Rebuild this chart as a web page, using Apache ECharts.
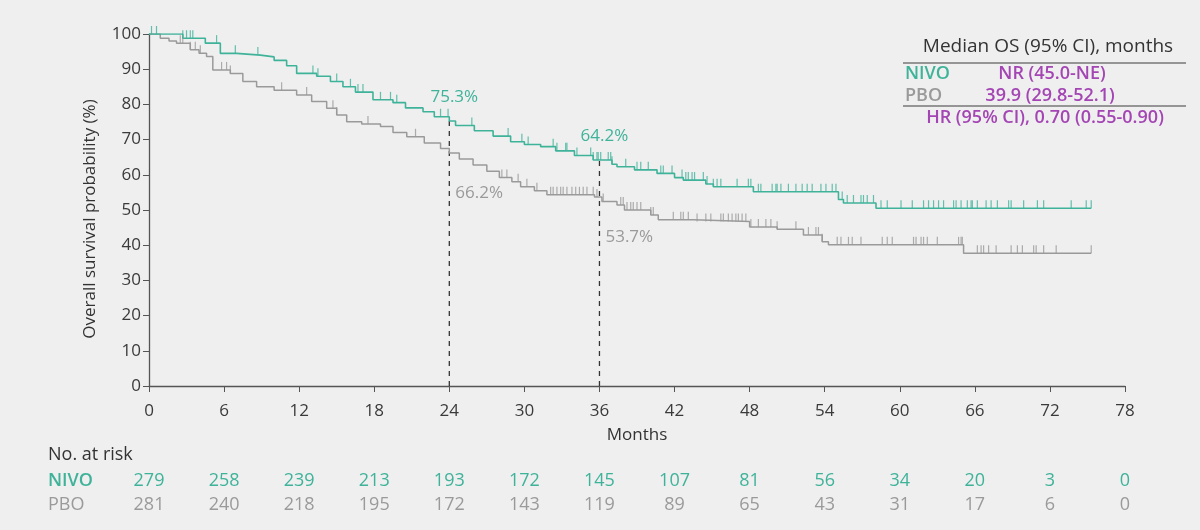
<!DOCTYPE html>
<html>
<head>
<meta charset="utf-8">
<script src="https://cdn.jsdelivr.net/npm/echarts@6/dist/echarts.min.js"></script>
<style>
  html, body { margin: 0; padding: 0; background: #efefef; }
  #chart { width: 1200px; height: 530px; }
</style>
</head>
<body>
<div id="chart"></div>
<script>
// KM steps: survival (%) that starts at each time (months)
const nivoTimes = [0, 2.7, 4.5, 5.7, 7.0, 8.9, 10.0, 11.0, 11.8, 13.4, 14.5, 15.5, 16.5, 17.9, 19.5, 20.5, 21.9, 22.8, 24.0, 24.5, 26.0, 27.5, 28.9, 30.0, 31.3, 32.5, 34.0, 35.5, 37.0, 37.4, 38.8, 40.6, 42.0, 42.7, 44.5, 45.1, 48.3, 55.1, 55.5, 58.1, 75.3];
const nivoSurv  = [100, 98.8, 97.4, 94.5, 94.0, 93.5, 92.5, 91.0, 88.8, 88.0, 86.5, 85.0, 83.5, 81.3, 80.5, 79.0, 77.9, 76.5, 75.3, 74.0, 72.5, 71.0, 69.4, 68.6, 68.0, 66.8, 65.5, 64.2, 63.0, 62.3, 61.4, 60.4, 59.2, 58.5, 57.4, 56.6, 55.2, 53.0, 52.0, 50.5, 50.5];
const pboTimes  = [0, 0.9, 1.6, 2.2, 3.3, 4.0, 4.6, 5.1, 6.5, 7.5, 8.6, 10.0, 11.8, 13.0, 14.2, 15.0, 15.8, 17.0, 18.5, 19.5, 20.6, 22.0, 23.3, 24.0, 24.8, 25.9, 27.0, 28.0, 29.0, 29.7, 30.8, 31.8, 35.6, 36.2, 37.4, 38.0, 40.1, 40.7, 43.5, 48.0, 50.2, 52.3, 53.8, 54.3, 65.1, 75.3];
const pboSurv   = [100, 98.8, 98.0, 97.4, 95.5, 94.5, 93.6, 89.8, 88.8, 86.5, 85.0, 84.0, 82.7, 80.8, 78.9, 77.0, 75.1, 74.4, 73.7, 72.0, 70.8, 69.0, 67.5, 66.2, 64.5, 62.8, 61.0, 59.2, 58.0, 56.6, 55.5, 54.3, 53.7, 52.4, 51.4, 50.0, 48.6, 47.2, 46.7, 45.2, 44.5, 42.9, 41.0, 40.1, 37.7, 37.7];

// censoring times (months)
const nivoCensor = [0.2, 0.6, 2.7, 3.0, 3.3, 3.5, 5.4, 6.9, 8.7, 13.1, 13.5, 15.0, 16.1, 16.7, 17.1, 18.5, 19.3, 19.8, 23.3, 23.9, 25.8, 28.7, 29.8, 30.3, 32.3, 32.6, 33.3, 33.4, 34.2, 35.3, 35.5, 35.8, 35.9, 36.1, 36.7, 36.9, 37.0, 38.1, 39.0, 39.3, 39.9, 40.9, 41.1, 41.8, 42.6, 42.9, 43.1, 43.4, 43.6, 44.3, 44.6, 45.1, 45.4, 45.7, 47.0, 47.9, 48.1, 48.7, 48.9, 49.8, 50.1, 50.2, 50.5, 51.1, 51.7, 52.2, 52.6, 53.0, 53.7, 54.1, 54.6, 54.9, 55.4, 55.8, 56.3, 56.9, 57.1, 57.4, 57.9, 58.5, 59.0, 60.1, 61.0, 61.9, 62.3, 62.7, 63.1, 63.5, 64.3, 64.5, 64.9, 65.4, 65.7, 65.8, 66.2, 66.9, 67.3, 67.8, 68.7, 68.9, 69.9, 71.0, 71.5, 73.7, 74.9, 75.3];
const pboCensor = [2.5, 2.7, 3.3, 3.7, 4.1, 5.8, 6.2, 6.5, 10.6, 12.6, 14.7, 15.0, 17.5, 21.3, 28.2, 28.6, 29.5, 30.2, 31.0, 32.1, 32.3, 32.6, 32.9, 33.1, 33.4, 33.8, 34.1, 34.4, 34.7, 35.0, 35.5, 35.8, 36.3, 37.7, 37.9, 38.2, 38.5, 38.7, 39.0, 39.3, 40.1, 40.3, 41.9, 42.5, 42.7, 43.1, 43.8, 44.5, 44.9, 45.7, 45.9, 46.3, 46.6, 46.9, 47.1, 47.4, 47.7, 48.1, 48.7, 49.3, 49.7, 50.2, 51.7, 52.7, 53.3, 53.5, 53.8, 55.0, 55.3, 55.9, 56.2, 56.9, 58.6, 59.0, 59.4, 61.1, 61.3, 61.7, 61.9, 62.2, 63.0, 64.7, 64.9, 65.0, 66.2, 66.5, 66.7, 67.1, 67.7, 68.9, 69.4, 69.8, 70.7, 70.9, 71.5, 72.5, 75.3];

// number at risk
const riskTimes = [0, 6, 12, 18, 24, 30, 36, 42, 48, 54, 60, 66, 72, 78];
const nivoRisk = [279, 258, 239, 213, 193, 172, 145, 107, 81, 56, 34, 20, 3, 0];
const pboRisk  = [281, 240, 218, 195, 172, 143, 119, 89, 65, 43, 31, 17, 6, 0];

// landmark annotations
const landmarkTimes = [24, 36];
const nivoLandmark = [75.3, 64.2];
const pboLandmark = [66.2, 53.7];

const TEAL = '#3fb39a';
const GRAY = '#9a9a9a';
const PURPLE = '#a445b4';
const FONT = 'Open Sans';

function survAt(times, surv, t) {
  let v = surv[0];
  for (let i = 0; i < times.length; i++) {
    if (times[i] <= t) v = surv[i]; else break;
  }
  return v;
}

const nivoLine = nivoTimes.map((t, i) => [t, nivoSurv[i]]);
const pboLine = pboTimes.map((t, i) => [t, pboSurv[i]]);
const nivoMarks = nivoCensor.map(t => [t, survAt(nivoTimes, nivoSurv, t)]);
const pboMarks = pboCensor.map(t => [t, survAt(pboTimes, pboSurv, t)]);

const chart = echarts.init(document.getElementById('chart'));

const censorSeries = (data, color) => ({
  type: 'scatter',
  data: data,
  symbol: 'rect',
  symbolSize: [1.2, 8],
  symbolOffset: [0, -4],
  itemStyle: { color: color },
  silent: true,
  z: 3
});

const dropLines = landmarkTimes.map((t, i) => ({
  type: 'line',
  data: [[t, 0], [t, nivoLandmark[i]]],
  symbol: 'none',
  lineStyle: { color: '#333', width: 1.3, type: [5, 5] },
  silent: true,
  z: 1
}));

const option = {
  backgroundColor: '#efefef',
  animation: false,
  grid: { left: 149, right: 75, top: 34, bottom: 144 },
  xAxis: {
    type: 'value',
    min: 0, max: 78, interval: 6,
    name: 'Months',
    nameLocation: 'middle',
    nameGap: 41,
    nameTextStyle: { fontFamily: FONT, fontSize: 17, color: '#333' },
    axisLine: { lineStyle: { color: '#555', width: 1.3 } },
    axisTick: { lineStyle: { color: '#555' }, length: 6 },
    axisLabel: { fontFamily: FONT, fontSize: 17, color: '#3a3a3a', margin: 17 },
    splitLine: { show: false }
  },
  yAxis: {
    type: 'value',
    min: 0, max: 100, interval: 10,
    axisLine: { show: true, lineStyle: { color: '#555', width: 1.3 } },
    axisTick: { show: true, lineStyle: { color: '#555' }, length: 6 },
    axisLabel: { fontFamily: FONT, fontSize: 17, color: '#3a3a3a', margin: 8 },
    splitLine: { show: false }
  },
  series: [
    ...dropLines,
    {
      type: 'line', data: pboLine, step: 'end', symbol: 'none',
      lineStyle: { color: GRAY, width: 1.5 }, z: 2, silent: true
    },
    {
      type: 'line', data: nivoLine, step: 'end', symbol: 'none',
      lineStyle: { color: TEAL, width: 1.6 }, z: 2, silent: true
    },
    censorSeries(pboMarks, GRAY),
    censorSeries(nivoMarks, TEAL)
  ]
};
chart.setOption(option);

// annotations and tables positioned from the axis scales
const px = (x, y) => chart.convertToPixel({ gridIndex: 0 }, [x, y]);
const txt = (x, y, text, color, font) => ({
  type: 'text', x: x, y: y,
  style: {
    text: text, fill: color, font: font || ('17px "' + FONT + '"'),
    align: 'center', verticalAlign: 'middle'
  }
});
const left = (el) => { el.style.align = 'left'; return el; };

const g = [];
// y axis title
const yTitle = txt(90, 219, 'Overall survival probability (%)', '#333');
yTitle.rotation = Math.PI / 2;
g.push(yTitle);

// landmark labels
landmarkTimes.forEach((t, i) => {
  const pn = px(t, nivoLandmark[i]);
  g.push(txt(pn[0] + 5, pn[1] - 24, nivoLandmark[i].toFixed(1) + '%', TEAL));
  const pp = px(t, pboLandmark[i]);
  g.push(left(txt(pp[0] + 6, pp[1] + 40, pboLandmark[i].toFixed(1) + '%', GRAY)));
});

// number at risk table
const riskFont = '18px "' + FONT + '"';
const riskBold = '500 18px "' + FONT + '"';
g.push(left(txt(48, 455, 'No. at risk', '#333', riskFont)));
g.push(left(txt(48, 481, 'NIVO', TEAL, '600 18px "' + FONT + '"')));
g.push(left(txt(48, 505, 'PBO', GRAY, riskFont)));
riskTimes.forEach((t, i) => {
  const p = px(t, 0);
  g.push(txt(p[0], 481, String(nivoRisk[i]), TEAL, riskBold));
  g.push(txt(p[0], 505, String(pboRisk[i]), GRAY, riskFont));
});

// median OS box
const boxFont = '19px "' + FONT + '"';
const boxBold = '600 18px "' + FONT + '"';
g.push(txt(1048, 47, 'Median OS (95% CI), months', '#333', boxFont));
g.push({ type: 'line', shape: { x1: 903, y1: 63, x2: 1186, y2: 63 }, style: { stroke: '#777', lineWidth: 1.5 } });
g.push(left(txt(905, 74, 'NIVO', TEAL, boxBold)));
g.push(txt(1052, 74, 'NR (45.0-NE)', PURPLE, boxBold));
g.push(left(txt(905, 96, 'PBO', GRAY, boxBold)));
g.push(txt(1050, 96, '39.9 (29.8-52.1)', PURPLE, boxBold));
g.push({ type: 'line', shape: { x1: 903, y1: 106, x2: 1186, y2: 106 }, style: { stroke: '#777', lineWidth: 1.5 } });
g.push(txt(1045, 118, 'HR (95% CI), 0.70 (0.55-0.90)', PURPLE, boxBold));

chart.setOption({ graphic: g });
</script>
</body>
</html>
